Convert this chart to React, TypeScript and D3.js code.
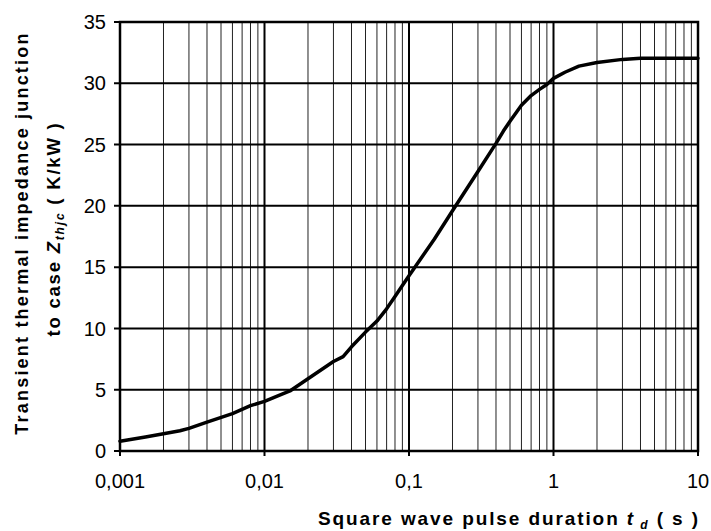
import React from "react";
import * as d3 from "d3";

// Data
const pulseDuration: number[] = [
  0.001, 0.0015, 0.002, 0.0026, 0.003, 0.004, 0.006, 0.008, 0.01, 0.015, 0.02,
  0.03, 0.035, 0.04, 0.05, 0.06, 0.07, 0.08, 0.09, 0.1, 0.15, 0.2, 0.3, 0.4,
  0.45, 0.5, 0.6, 0.7, 0.8, 0.9, 1.0, 1.2, 1.5, 2, 3, 4, 10,
];
const zthjc: number[] = [
  0.8, 1.15, 1.4, 1.65, 1.85, 2.35, 3.05, 3.7, 4.05, 4.9, 5.9,
  7.3, 7.7, 8.5, 9.7, 10.6, 11.6, 12.6, 13.5, 14.3, 17.3, 19.6, 22.8, 25.1,
  26.1, 26.9, 28.2, 29.0, 29.5, 29.9, 30.4, 30.9, 31.4, 31.7, 31.95, 32.05, 32.05,
];
const xMajorTicks: number[] = [0.001, 0.01, 0.1, 1, 10];
const xTickLabels: string[] = ["0,001", "0,01", "0,1", "1", "10"];
const yTicks: number[] = [0, 5, 10, 15, 20, 25, 30, 35];

const W = 711;
const H = 531;
const left = 120;
const right = 698;
const top = 22;
const bottom = 451;

export default function App() {
  const x = d3.scaleLog().domain([0.001, 10]).range([left, right]);
  const y = d3.scaleLinear().domain([0, 35]).range([bottom, top]);

  const minorTicks: number[] = [];
  for (let e = -3; e < 1; e++) {
    for (let m = 2; m <= 9; m++) minorTicks.push(m * Math.pow(10, e));
  }

  const pts: [number, number][] = pulseDuration.map((t, i) => [t, zthjc[i]]);
  const line = d3
    .line<[number, number]>()
    .x((d) => x(d[0]))
    .y((d) => y(d[1]));

  const font = "Arial, 'Liberation Sans', Helvetica, sans-serif";

  return (
    <svg
      width={W}
      height={H}
      style={{ position: "absolute", left: 0, top: 0, background: "#fff" }}
      fontFamily={font}
    >
      <rect x={0} y={0} width={W} height={H} fill="#fff" />
      {/* minor vertical grid */}
      {minorTicks.map((t) => (
        <line
          key={"mv" + t}
          x1={x(t)}
          x2={x(t)}
          y1={top}
          y2={bottom}
          stroke="#222"
          strokeWidth={1}
        />
      ))}
      {/* major vertical grid */}
      {xMajorTicks.map((t) => (
        <line
          key={"Mv" + t}
          x1={x(t)}
          x2={x(t)}
          y1={top}
          y2={bottom + 5}
          stroke="#000"
          strokeWidth={2}
        />
      ))}
      {/* horizontal grid + y ticks */}
      {yTicks.map((v) => (
        <line
          key={"h" + v}
          x1={left - 6}
          x2={right}
          y1={y(v)}
          y2={y(v)}
          stroke="#000"
          strokeWidth={2}
        />
      ))}
      {/* frame */}
      <rect
        x={left}
        y={top}
        width={right - left}
        height={bottom - top}
        fill="none"
        stroke="#000"
        strokeWidth={2.5}
      />
      {/* curve */}
      <path
        d={line(pts) || ""}
        fill="none"
        stroke="#000"
        strokeWidth={3.5}
        strokeLinejoin="round"
        strokeLinecap="round"
      />
      {/* y tick labels */}
      {yTicks.map((v) => (
        <text
          key={"yl" + v}
          x={106}
          y={y(v)}
          dy="0.36em"
          textAnchor="end"
          fontSize={20}
          fill="#000"
        >
          {v}
        </text>
      ))}
      {/* x tick labels */}
      {xMajorTicks.map((t, i) => (
        <text
          key={"xl" + t}
          x={x(t)}
          y={488}
          textAnchor="middle"
          fontSize={20}
          fill="#000"
        >
          {xTickLabels[i]}
        </text>
      ))}
      {/* x title */}
      <text
        x={700}
        y={525}
        textAnchor="end"
        fontSize={19}
        fontWeight="bold"
        letterSpacing={1.9}
        fill="#000"
      >
        Square wave pulse duration{" "}
        <tspan fontStyle="italic">t</tspan>
        <tspan fontStyle="italic" fontSize={12} dy={4}>
          {" "}d
        </tspan>
        <tspan dy={-4}> ( s )</tspan>
      </text>
      {/* y title */}
      <text
        transform="translate(28,233) rotate(-90)"
        textAnchor="middle"
        fontSize={18}
        fontWeight="bold"
        letterSpacing={2.2}
        fill="#000"
      >
        Transient thermal impedance junction
      </text>
      <text
        transform="translate(60,229) rotate(-90)"
        textAnchor="middle"
        fontSize={18.5}
        fontWeight="bold"
        letterSpacing={1.8}
        fill="#000"
      >
        to case <tspan fontStyle="italic">Z</tspan>
        <tspan fontStyle="italic" fontSize={12} dy={4}>
          thjc
        </tspan>
        <tspan dy={-4}>{"  ( K/kW )"}</tspan>
      </text>
    </svg>
  );
}
